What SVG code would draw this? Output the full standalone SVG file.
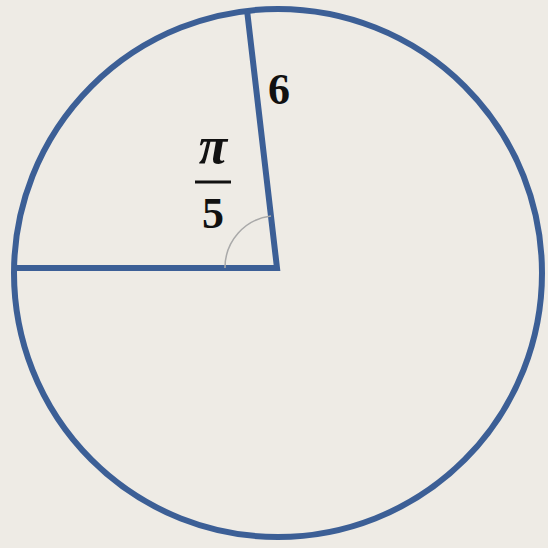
<svg xmlns="http://www.w3.org/2000/svg" width="548" height="548" viewBox="0 0 548 548">
<style>
.s{fill:none;stroke:#3c5f96;stroke-width:6;stroke-linejoin:miter}
.t{font-family:"Liberation Serif",serif;font-weight:bold;fill:#111;font-size:44px;text-anchor:middle}
</style>
<rect width="548" height="548" fill="#eeebe5"/>
<g id="circle"><circle class="s" cx="278" cy="273" r="264"/></g>
<g id="connectors">
<polyline class="s" points="15,268 277,268 247,10"/>
<path d="M225,268 A52,52 0 0 1 271,216" fill="none" stroke="#a9a9a9" stroke-width="1.5"/>
</g>
<g id="labels">
<text class="t" x="279" y="104">6</text>
<text class="t" x="213" y="163" style="font-size:52px;font-style:italic">π</text>
<line x1="195" y1="182" x2="231" y2="182" stroke="#111" stroke-width="3"/>
<text class="t" x="213" y="228">5</text>
</g>
</svg>
